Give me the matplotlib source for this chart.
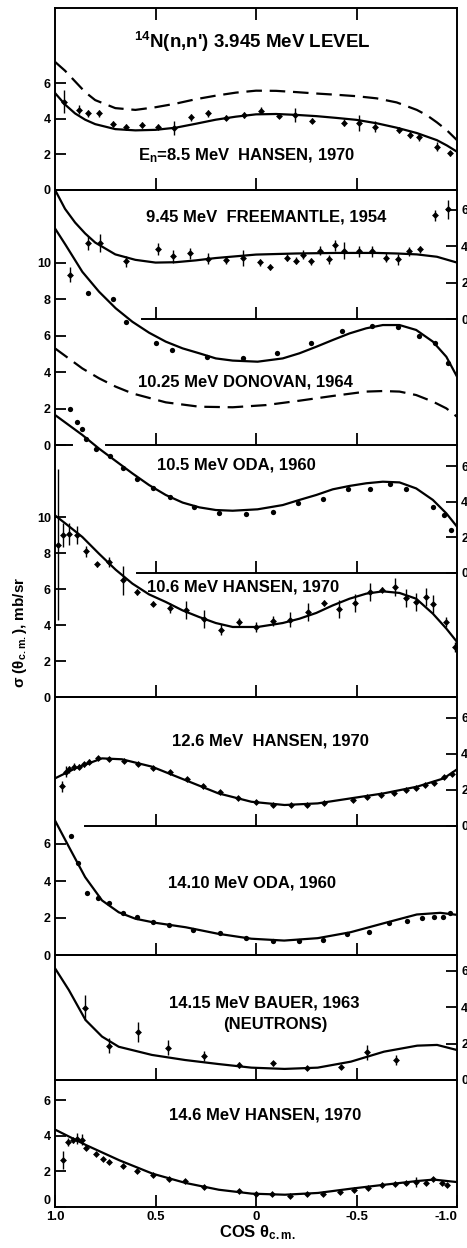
import matplotlib

matplotlib.use('Agg')
from matplotlib import pyplot as plt

plt.rcParams['font.family'] = ['Liberation Sans', 'DejaVu Sans']
plt.rcParams['font.weight'] = 'bold'
plt.rcParams['mathtext.default'] = 'regular'

# ---- 8.5 MeV, Hansen 1970 (left scale) ----
h85_cos = [0.953, 0.880, 0.834, 0.781, 0.711, 0.648, 0.568, 0.490, 0.407, 0.324, 0.238, 0.150, 0.062,
           -0.025, -0.113, -0.196, -0.279, -0.440, -0.512, -0.590, -0.711, -0.764, -0.811, -0.900, -0.963]
h85_sig = [4.97, 4.50, 4.31, 4.31, 3.70, 3.53, 3.66, 3.56, 3.47, 4.09, 4.31, 4.07, 4.22,
           4.45, 4.18, 4.22, 3.90, 3.79, 3.79, 3.56, 3.38, 3.10, 2.96, 2.44, 2.06]
h85_err = [0.65, 0.25, 0.2, 0.2, 0.15, 0.15, 0.15, 0.15, 0.4, 0.2, 0.2, 0.15, 0.15,
           0.2, 0.15, 0.4, 0.15, 0.2, 0.45, 0.3, 0.15, 0.2, 0.2, 0.25, 0.15]
h85_fit_cos = [1.0, 0.95, 0.9, 0.85, 0.8, 0.7, 0.6, 0.5, 0.4, 0.3, 0.2, 0.1, 0.0, -0.1, -0.2, -0.3,
               -0.4, -0.5, -0.6, -0.7, -0.8, -0.9, -0.95, -1.0]
h85_fit = [5.45, 4.8, 4.3, 3.95, 3.7, 3.42, 3.35, 3.38, 3.5, 3.72, 3.95, 4.12, 4.25, 4.27, 4.22, 4.15,
           4.05, 3.94, 3.75, 3.5, 3.2, 2.8, 2.5, 2.15]
h85_dash_cos = [1.0, 0.95, 0.9, 0.85, 0.8, 0.7, 0.6, 0.5, 0.4, 0.3, 0.2, 0.1, 0.0, -0.1, -0.2, -0.3,
                -0.4, -0.5, -0.6, -0.7, -0.8, -0.85, -0.9, -0.95, -1.0]
h85_dash = [7.2, 6.7, 6.1, 5.5, 5.05, 4.6, 4.5, 4.65, 4.85, 5.1, 5.3, 5.47, 5.58, 5.57, 5.5, 5.42,
            5.35, 5.27, 5.15, 4.92, 4.5, 4.2, 3.8, 3.35, 2.8]

# ---- 9.45 MeV, Freemantle 1954 (right scale) ----
fr_cos = [0.925, 0.834, 0.777, 0.648, 0.490, 0.415, 0.329, 0.241, 0.150, 0.067, -0.020, -0.070, -0.153, -0.200,
          -0.233, -0.274, -0.319, -0.362, -0.395, -0.440, -0.512, -0.578, -0.648, -0.706, -0.761, -0.814, -0.889, -0.955]
fr_sig = [2.44, 4.18, 4.18, 3.17, 3.85, 3.45, 3.60, 3.30, 3.23, 3.36, 3.12, 2.86, 3.36, 3.21,
          3.54, 3.17, 3.76, 3.27, 4.04, 3.76, 3.72, 3.72, 3.36, 3.27, 3.72, 3.82, 5.69, 6.02]
fr_err = [0.4, 0.4, 0.5, 0.3, 0.35, 0.35, 0.3, 0.3, 0.2, 0.45, 0.2, 0.15, 0.2, 0.2,
          0.25, 0.2, 0.25, 0.25, 0.3, 0.45, 0.3, 0.3, 0.25, 0.3, 0.25, 0.2, 0.3, 0.5]
fr_fit_cos = [1.0, 0.95, 0.9, 0.85, 0.8, 0.7, 0.6, 0.5, 0.4, 0.3, 0.2, 0.0, -0.2, -0.4, -0.6, -0.7, -0.8, -0.9, -1.0]
fr_fit = [7.1, 6.05, 5.3, 4.7, 4.2, 3.55, 3.25, 3.1, 3.12, 3.22, 3.35, 3.54, 3.6, 3.63, 3.63, 3.6, 3.55, 3.42, 3.1]

# ---- 10.25 MeV, Donovan 1964 (left scale) ----
dn_cos = [0.834, 0.711, 0.648, 0.498, 0.419, 0.246, 0.067, -0.104, -0.276, -0.430, -0.576, -0.704, -0.809, -0.892, -0.953]
dn_sig = [8.32, 8.0, 6.76, 5.58, 5.21, 4.84, 4.79, 5.06, 5.58, 6.27, 6.53, 6.49, 6.0, 5.61, 4.52]
dn_fit_cos = [1.0, 0.947, 0.864, 0.781, 0.698, 0.615, 0.532, 0.449, 0.365, 0.282, 0.2, 0.116, -0.008, -0.133,
              -0.216, -0.3, -0.382, -0.465, -0.548, -0.631, -0.714, -0.797, -0.88, -0.947, -1.0]
dn_fit = [11.88, 10.97, 9.5, 8.41, 7.5, 6.76, 6.16, 5.67, 5.3, 5.03, 4.75, 4.63, 4.57, 4.75,
          5.03, 5.39, 5.76, 6.12, 6.4, 6.58, 6.58, 6.31, 5.67, 4.84, 3.75]
dn_dash_cos = [1.0, 0.864, 0.781, 0.698, 0.615, 0.449, 0.282, 0.116, -0.05, -0.216, -0.382, -0.548, -0.631,
               -0.714, -0.797, -0.88, -0.947, -1.0]
dn_dash = [5.3, 4.2, 3.66, 3.2, 2.83, 2.34, 2.1, 2.07, 2.19, 2.43, 2.69, 2.93, 2.96, 2.93, 2.74, 2.38, 2.01, 1.55]

# ---- 10.5 MeV, Oda 1960 (right scale) ----
oda105_cos = [0.925, 0.889, 0.867, 0.844, 0.794, 0.728, 0.664, 0.590, 0.512, 0.429, 0.307, 0.183, 0.050,
              -0.083, -0.211, -0.332, -0.457, -0.565, -0.668, -0.748, -0.880, -0.934, -0.972]
oda105_sig = [9.24, 8.49, 8.09, 7.54, 6.96, 6.60, 5.92, 5.27, 4.76, 4.28, 3.68, 3.38, 3.31,
              3.44, 3.91, 4.15, 4.72, 4.72, 5.0, 4.70, 3.68, 3.25, 2.40]
oda105_fit_cos = [1.0, 0.947, 0.864, 0.781, 0.698, 0.615, 0.532, 0.449, 0.365, 0.282, 0.2, 0.116, -0.008,
                  -0.133, -0.216, -0.3, -0.382, -0.465, -0.548, -0.631, -0.714, -0.797, -0.88, -0.947, -1.0]
oda105_fit = [8.9, 8.46, 7.77, 7.0, 6.3, 5.6, 4.94, 4.38, 3.95, 3.68, 3.53, 3.49, 3.57,
              3.81, 4.1, 4.38, 4.7, 4.89, 5.04, 5.13, 5.09, 4.75, 4.1, 3.34, 2.59]

# ---- 10.6 MeV, Hansen 1970 (left scale) ----
h106_cos = [0.983, 0.960, 0.930, 0.892, 0.844, 0.792, 0.731, 0.661, 0.590, 0.512, 0.429, 0.346, 0.258, 0.174,
            0.083, 0.0, -0.086, -0.171, -0.257, -0.340, -0.415, -0.495, -0.565, -0.628, -0.691, -0.744,
            -0.794, -0.844, -0.880, -0.947, -0.988]
h106_sig = [8.46, 9.0, 9.07, 9.0, 8.1, 7.37, 7.5, 6.48, 5.83, 5.19, 4.94, 4.82, 4.35, 3.74,
            4.17, 3.89, 4.22, 4.30, 4.72, 5.22, 4.91, 5.22, 5.83, 5.96, 6.11, 5.5,
            5.28, 5.56, 5.19, 4.17, 2.78]
h106_err = [4.2, 0.65, 0.6, 0.5, 0.3, 0.15, 0.3, 0.8, 0.15, 0.15, 0.3, 0.5, 0.5, 0.3,
            0.2, 0.3, 0.3, 0.4, 0.5, 0.15, 0.5, 0.5, 0.5, 0.15, 0.5, 0.5,
            0.5, 0.5, 0.5, 0.3, 0.3]
h106_fit_cos = [1.0, 0.947, 0.864, 0.781, 0.698, 0.615, 0.532, 0.449, 0.365, 0.282, 0.2, 0.116, -0.008,
                -0.133, -0.216, -0.3, -0.382, -0.465, -0.548, -0.631, -0.714, -0.797, -0.88, -0.947, -1.0]
h106_fit = [10.09, 9.63, 8.89, 7.96, 7.07, 6.3, 5.7, 5.28, 4.81, 4.44, 4.11, 3.89, 3.89,
            4.11, 4.35, 4.67, 5.09, 5.46, 5.74, 5.87, 5.78, 5.46, 4.63, 3.8, 3.06]

# ---- 12.6 MeV, Hansen 1970 (right scale) ----
h126_cos = [0.964, 0.947, 0.931, 0.906, 0.881, 0.856, 0.832, 0.785, 0.729, 0.658, 0.587, 0.510, 0.427, 0.345,
            0.262, 0.180, 0.089, -0.002, -0.084, -0.172, -0.254, -0.337, -0.485, -0.554, -0.624, -0.686,
            -0.744, -0.794, -0.843, -0.884, -0.934, -0.975]
h126_sig = [2.2, 3.0, 3.13, 3.28, 3.28, 3.41, 3.56, 3.74, 3.69, 3.59, 3.41, 3.19, 3.0, 2.57,
            2.2, 1.85, 1.56, 1.33, 1.15, 1.15, 1.15, 1.24, 1.43, 1.59, 1.70, 1.83,
            1.98, 2.11, 2.26, 2.39, 2.69, 2.87]
h126_err = [0.3, 0.3, 0.2, 0.2, 0.15, 0.15, 0.15, 0.1, 0.1, 0.1, 0.1, 0.1, 0.1, 0.1,
            0.1, 0.1, 0.1, 0.1, 0.1, 0.1, 0.1, 0.1, 0.1, 0.1, 0.1, 0.1,
            0.1, 0.1, 0.1, 0.1, 0.1, 0.1]
h126_fit_cos = [1.0, 0.898, 0.766, 0.667, 0.518, 0.353, 0.188, 0.023, -0.142, -0.307, -0.472, -0.637,
                -0.802, -0.934, -1.0]
h126_fit = [2.63, 3.19, 3.74, 3.69, 3.28, 2.54, 1.8, 1.33, 1.15, 1.24, 1.52, 1.8, 2.17, 2.63, 3.13]

# ---- 14.10 MeV, Oda 1960 (left scale) ----
oda141_cos = [0.922, 0.884, 0.843, 0.785, 0.729, 0.663, 0.592, 0.510, 0.431, 0.312, 0.180, 0.051, -0.084,
              -0.213, -0.335, -0.455, -0.563, -0.662, -0.749, -0.827, -0.884, -0.931, -0.967]
oda141_sig = [6.42, 4.96, 3.36, 3.09, 2.80, 2.28, 2.08, 1.77, 1.63, 1.36, 1.18, 0.91, 0.78,
              0.75, 0.82, 1.15, 1.27, 1.72, 1.86, 1.99, 2.08, 2.08, 2.28]
oda141_fit_cos = [1.0, 0.93, 0.85, 0.766, 0.683, 0.6, 0.5, 0.35, 0.19, 0.023, -0.14, -0.307, -0.47,
                  -0.637, -0.8, -0.917, -1.0]
oda141_fit = [7.27, 5.83, 4.21, 2.95, 2.31, 1.96, 1.74, 1.5, 1.15, 0.88, 0.78, 0.91, 1.23, 1.72, 2.19, 2.28, 2.17]

# ---- 14.15 MeV, Bauer 1963 (right scale) ----
bau_cos = [0.851, 0.733, 0.587, 0.439, 0.259, 0.086, -0.084, -0.254, -0.422, -0.554, -0.695]
bau_sig = [3.98, 1.89, 2.66, 1.78, 1.32, 0.83, 0.92, 0.64, 0.73, 1.52, 1.10]
bau_err = [0.7, 0.4, 0.55, 0.4, 0.25, 0.15, 0.15, 0.1, 0.1, 0.4, 0.3]
bau_fit_cos = [1.0, 0.931, 0.848, 0.766, 0.683, 0.518, 0.353, 0.188, 0.023, -0.142, -0.307, -0.472,
               -0.637, -0.802, -0.901, -1.0]
bau_fit = [6.15, 4.95, 3.3, 2.39, 1.83, 1.38, 1.1, 0.88, 0.68, 0.61, 0.68, 1.01, 1.56, 1.89, 1.93, 1.65]

# ---- 14.6 MeV, Hansen 1970 (left scale) ----
h146_cos = [0.962, 0.934, 0.909, 0.890, 0.868, 0.847, 0.794, 0.761, 0.732, 0.663, 0.593, 0.514, 0.432, 0.353,
            0.259, 0.086, 0.001, -0.081, -0.169, -0.256, -0.333, -0.416, -0.486, -0.556, -0.625, -0.691,
            -0.745, -0.794, -0.844, -0.881, -0.926, -0.951]
h146_sig = [2.66, 3.65, 3.75, 3.84, 3.78, 3.33, 3.0, 2.72, 2.53, 2.28, 2.02, 1.78, 1.59, 1.46,
            1.12, 0.90, 0.75, 0.71, 0.64, 0.71, 0.75, 0.84, 0.97, 1.09, 1.24, 1.31,
            1.35, 1.40, 1.37, 1.59, 1.35, 1.25]
h146_err = [0.5, 0.25, 0.15, 0.3, 0.3, 0.15, 0.1, 0.1, 0.1, 0.1, 0.1, 0.1, 0.1, 0.1,
            0.1, 0.1, 0.1, 0.1, 0.1, 0.1, 0.1, 0.1, 0.1, 0.1, 0.1, 0.1,
            0.1, 0.3, 0.1, 0.1, 0.1, 0.1]
h146_fit_cos = [1.0, 0.844, 0.679, 0.514, 0.35, 0.185, 0.021, -0.144, -0.309, -0.473, -0.638, -0.802, -0.885, -1.0]
h146_fit = [4.35, 3.47, 2.62, 1.87, 1.35, 0.97, 0.75, 0.69, 0.79, 1.03, 1.25, 1.46, 1.54, 1.4]

W, H = 467, 1248
X0, X1 = 55, 457
LW = 1.4

fig = plt.figure(figsize=(W / 100, H / 100), dpi=100)


def px_axes(top, zero, scale):
    """Axes whose zero sits at pixel row `zero` with `scale` pixels per mb/sr"""
    ax = fig.add_axes([X0 / W, 1 - zero / H, (X1 - X0) / W, (zero - top) / H])
    ax.set_xlim(1.0, -1.0)
    ax.set_ylim(0, (zero - top) / scale)
    ax.patch.set_visible(False)
    return ax


def box(top, zero, scale, yticks, right=False, top_ticks=False, xlabels=False):
    ax = px_axes(top, zero, scale)
    for sp in ax.spines.values():
        sp.set_linewidth(LW)
    if xlabels:
        ax.set_xticks([1.0, 0.5, 0, -0.5, -1.0])
        ax.set_xticklabels(['1.0', '0.5', '0', '-0.5', '-1.0'])
        ax.get_xticklabels()[-1].set_horizontalalignment('right')
    else:
        ax.set_xticks([0.5, 0, -0.5])
    ax.tick_params(axis='x', direction='in', length=8.5, width=1.3, top=top_ticks, bottom=True,
                   labelbottom=xlabels, labelsize=9.5, pad=3)
    ax.set_yticks(yticks)
    ax.set_yticklabels([str(t) for t in yticks])
    ax.tick_params(axis='y', direction='in', length=8, width=1.3, left=not right, right=right,
                   labelleft=not right, labelright=right, labelsize=9, pad=3)
    return ax


def overlay(top, zero, scale, line_from):
    """Inner panel read on the right-hand scale, with its own short zero line"""
    ax = px_axes(top, zero, scale)
    for sp in ax.spines.values():
        sp.set_visible(False)
    ax.axhline(0, xmin=(line_from - X0) / (X1 - X0), xmax=1, color='k', lw=LW, clip_on=False)
    ax.set_xticks([0.5, 0, -0.5])
    ax.tick_params(axis='x', direction='in', length=8.5, width=1.3, labelbottom=False)
    ax.set_yticks([0, 2, 4, 6])
    ax.set_yticklabels(['0', '2', '4', '6'])
    ax.tick_params(axis='y', direction='in', length=8, width=1.3, left=False, right=True,
                   labelleft=False, labelright=True, labelsize=9, pad=3)
    return ax


def fit(ax, c, s, dashed=False):
    line, = ax.plot(c, s, color='k', lw=1.6, solid_joinstyle='round')
    if dashed:
        line.set_dashes((7, 3.5))


def pts(ax, c, s, err=None):
    if err is None:
        ax.plot(c, s, 'o', color='k', ms=3.8, mec='none')
    else:
        ax.errorbar(c, s, yerr=err, fmt='D', color='k', ms=3.5, mec='none', elinewidth=1, capsize=0)


# stacked boxes, each with its own zero line
ax1 = box(8, 190, 17.8, [0, 2, 4, 6], top_ticks=True)
fit(ax1, h85_fit_cos, h85_fit)
fit(ax1, h85_dash_cos, h85_dash, dashed=True)
pts(ax1, h85_cos, h85_sig, h85_err)

ax3 = box(190, 445, 18.23, [0, 2, 4, 6, 8, 10])
ax3.spines['bottom'].set_visible(False)
ax3.axhline(0, 0, (72 - X0) / (X1 - X0), color='k', lw=LW, clip_on=False)
ax3.axhline(0, (106 - X0) / (X1 - X0), 1, color='k', lw=LW, clip_on=False)
fit(ax3, dn_fit_cos, dn_fit)
fit(ax3, dn_dash_cos, dn_dash, dashed=True)
pts(ax3, dn_cos, dn_sig)

ax2 = overlay(180, 319, 18.2, 142)
fit(ax2, fr_fit_cos, fr_fit)
pts(ax2, fr_cos, fr_sig, fr_err)

ax5 = box(445, 697, 18.0, [0, 2, 4, 6, 8, 10])
ax5.spines['top'].set_visible(False)
fit(ax5, h106_fit_cos, h106_fit)
pts(ax5, h106_cos, h106_sig, h106_err)

ax4 = overlay(395, 572.5, 17.7, 137)
fit(ax4, oda105_fit_cos, oda105_fit)
pts(ax4, oda105_cos, oda105_sig)

ax7 = box(697, 955, 18.5, [0, 2, 4, 6])
fit(ax7, oda141_fit_cos, oda141_fit)
pts(ax7, oda141_cos, oda141_sig)

ax6 = overlay(697, 825.7, 18.0, 85)
fit(ax6, h126_fit_cos, h126_fit)
pts(ax6, h126_cos, h126_sig, h126_err)

ax8 = box(955, 1080, 18.17, [0, 2, 4, 6], right=True)
fit(ax8, bau_fit_cos, bau_fit)
pts(ax8, bau_cos, bau_sig, bau_err)

ax9 = box(1080, 1207, 17.8, [0, 2, 4, 6], xlabels=True)
# lift the corner zero so it clears the 1.0 below it
ax9.get_yticklabels()[0].set_verticalalignment('bottom')
fit(ax9, h146_fit_cos, h146_fit)
pts(ax9, h146_cos, h146_sig, h146_err)


def label(x, y, s, size=12, **kw):
    fig.text(x / W, 1 - y / H, s, ha='center', va='center', fontsize=size, **kw)


label(252, 42, "$^{14}$N(n,n') 3.945 MeV LEVEL", size=13.5)
label(247, 156, "E$_n$=8.5 MeV  HANSEN, 1970")
label(266, 217, "9.45 MeV  FREEMANTLE, 1954")
label(245, 382, "10.25 MeV DONOVAN, 1964")
label(236, 465, "10.5 MeV ODA, 1960")
label(243, 587, "10.6 MeV HANSEN, 1970")
label(270, 741, "12.6 MeV  HANSEN, 1970")
label(252, 883, "14.10 MeV ODA, 1960")
label(264, 1003, "14.15 MeV BAUER, 1963")
label(275, 1025, "(NEUTRONS)")
label(265, 1115, "14.6 MeV HANSEN, 1970")
label(257, 1233, "COS θ$_{c.m.}$", size=12)
label(20, 632, "σ (θ$_{c.m.}$), mb/sr", size=11, rotation=90)

plt.savefig('out.png', dpi=100)
